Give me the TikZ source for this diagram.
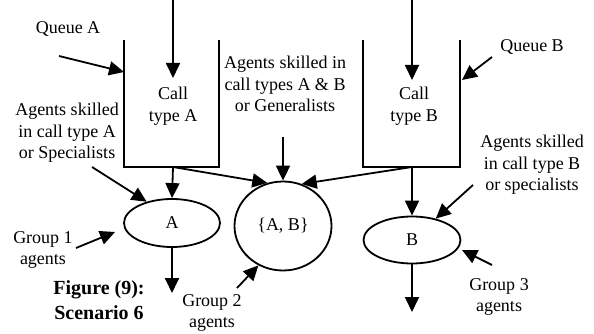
\documentclass[tikz,border=0pt]{standalone}
\usepackage{fontspec}
\setmainfont{Liberation Serif}
\usetikzlibrary{arrows.meta,shapes.geometric}
\begin{document}
\begin{tikzpicture}[x=1pt,y=-1pt,
  line width=1.8pt,
  arr/.style={-{Triangle[length=15pt,width=14pt]}},
  lbl/.style={font=\fontsize{18}{21.5}\selectfont, align=center, inner sep=0pt},
  figlbl/.style={font=\bfseries\fontsize{20}{25}\selectfont, align=center, inner sep=0pt},
  shp/.style={draw, ellipse, inner sep=0pt, font=\fontsize{18}{21.5}\selectfont}]
\useasboundingbox (0,0) rectangle (594,334);

% queue boxes (open top)
\coordinate (qAtl) at (124,40);
\coordinate (qAbl) at (124,167);
\coordinate (qAbr) at (219,167);
\coordinate (qAtr) at (219,40);
\coordinate (qAbm) at (173,167);
\draw (qAtl) -- (qAbl) -- (qAbr) -- (qAtr);

\coordinate (qBtl) at (363,40);
\coordinate (qBbl) at (363,167);
\coordinate (qBbr) at (460,167);
\coordinate (qBtr) at (460,40);
\coordinate (qBbm) at (412,167);
\draw (qBtl) -- (qBbl) -- (qBbr) -- (qBtr);

% shapes
\node[shp, minimum width=96pt, minimum height=48pt] (A) at (172,223) {A};
\node[shp, minimum width=97pt, minimum height=89pt] (AB) at (283,226) {\{A, B\}};
\node[shp, minimum width=97pt, minimum height=47pt] (B) at (412,240) {B};

% texts
\node[lbl] (qAlbl) at (68,29) {Queue A};
\node[lbl] (qBlbl) at (532,47) {Queue B};
\node[lbl] (callA) at (173,106) {Call\\type A};
\node[lbl] (callB) at (414,106) {Call\\type B};
\node[lbl] (skA) at (67,133) {Agents skilled\\in call type A\\or Specialists};
\node[lbl] (skAB) at (285,84) {Agents skilled in\\call types A \& B\\or Generalists};
\node[lbl] (skB) at (532,165) {Agents skilled\\in call type B\\or specialists};
\node[lbl] (g1) at (43,250) {Group 1\\agents};
\node[lbl] (g2) at (212,313) {Group 2\\agents};
\node[lbl] (g3) at (499,297) {Group 3\\agents};
\node[figlbl] (fig) at (99,300) {Figure (9):\\Scenario 6};

% free-end coordinates
\coordinate (inA0) at (173,0);
\coordinate (inA1) at (173,78);
\coordinate (inB0) at (412,0);
\coordinate (inB1) at (412,80);
\coordinate (qAs) at (59,56);
\coordinate (qAe) at (124,72);
\coordinate (qBs) at (492,57);
\coordinate (qBe) at (462,80);
\coordinate (skAs) at (92,167);
\coordinate (skABs) at (283,137);
\coordinate (skBs) at (473,185);
\coordinate (g1s) at (76,248);
\coordinate (g1e) at (115,232);
\coordinate (g2s) at (237,288);
\coordinate (g3s) at (492,265);
\coordinate (g3e) at (462,250);
\coordinate (outA) at (172,293);
\coordinate (outB) at (412,312);

% connectors
\draw[arr] (inA0) -- (inA1);
\draw[arr] (inB0) -- (inB1);
\draw[arr] (qAs) -- (qAe);
\draw[arr] (qBs) -- (qBe);
\draw[arr] (qAbm) -- (A.north);
\draw[arr] (qAbm) -- (AB.110);
\draw[arr] (qBbm) -- (B.north);
\draw[arr] (qBbm) -- (AB.66);
\draw[arr] (skAs) -- (A.140);
\draw[arr] (skABs) -- (AB.north);
\draw[arr] (skBs) -- (B.42);
\draw[arr] (g1s) -- (g1e);
\draw[arr] (g2s) -- (AB.238);
\draw[arr] (g3s) -- (g3e);
\draw[arr] (A.south) -- (outA);
\draw[arr] (B.south) -- (outB);
\end{tikzpicture}
\end{document}
